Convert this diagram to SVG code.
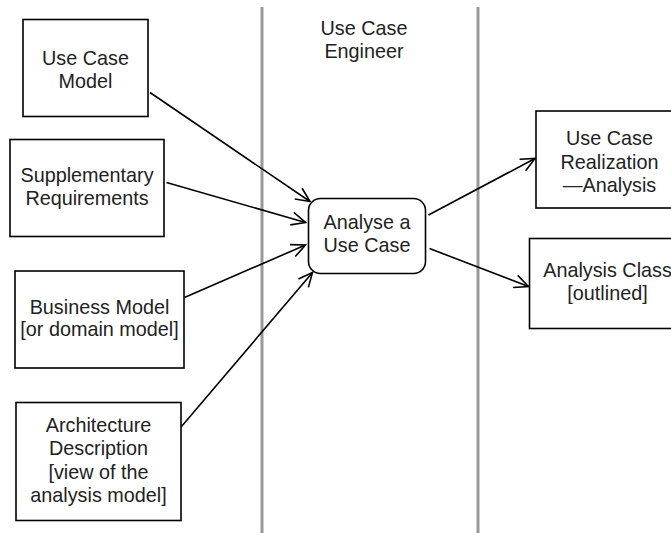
<svg xmlns="http://www.w3.org/2000/svg" width="671" height="533" viewBox="0 0 671 533">
<defs>
<style>
.box{fill:#fff;stroke:#000;stroke-width:1.6}
.lane{stroke:#999;stroke-width:3}
.t{font-family:"Liberation Sans",Arial,sans-serif;font-size:19.8px;fill:#222;text-anchor:middle}
.c{fill:none;stroke:#000;stroke-width:1.6}
</style>
<marker id="arr" markerUnits="userSpaceOnUse" markerWidth="20" markerHeight="20" viewBox="-16 -10 20 20" refX="0" refY="0" orient="auto">
<path d="M-14,-6.5 L0,0 L-14,6.5" fill="none" stroke="#000" stroke-width="1.6"/>
</marker>
</defs>
<rect width="671" height="533" fill="#fff"/>
<g id="lanes">
<line class="lane" x1="262" y1="7" x2="262" y2="533"/>
<line class="lane" x1="478" y1="7" x2="478" y2="533"/>
<text class="t" x="364" y="35">Use Case</text>
<text class="t" x="364" y="58">Engineer</text>
</g>
<g id="connectors">
<line class="c" x1="150" y1="92.5" x2="310" y2="201.5" marker-end="url(#arr)"/>
<line class="c" x1="166.5" y1="182.5" x2="305.5" y2="222.5" marker-end="url(#arr)"/>
<line class="c" x1="184.5" y1="297.5" x2="305.5" y2="245" marker-end="url(#arr)"/>
<line class="c" x1="181.5" y1="426.5" x2="312.5" y2="272.5" marker-end="url(#arr)"/>
<line class="c" x1="428.5" y1="215" x2="535" y2="158.5" marker-end="url(#arr)"/>
<line class="c" x1="429.5" y1="248.5" x2="528.5" y2="286.5" marker-end="url(#arr)"/>
</g>
<g id="use-case-model">
<rect class="box" x="23" y="19.5" width="125" height="97"/>
<text class="t" x="85.5" y="65">Use Case</text>
<text class="t" x="85.5" y="87.5">Model</text>
</g>
<g id="supplementary-requirements">
<rect class="box" x="10" y="139.5" width="154" height="97"/>
<text class="t" x="87" y="182">Supplementary</text>
<text class="t" x="87" y="204.5">Requirements</text>
</g>
<g id="business-model">
<rect class="box" x="15" y="271" width="169" height="97"/>
<text class="t" x="99.5" y="313.5">Business Model</text>
<text class="t" x="99.5" y="336">[or domain model]</text>
</g>
<g id="architecture-description">
<rect class="box" x="16" y="402.5" width="165" height="118"/>
<text class="t" x="98.5" y="432">Architecture</text>
<text class="t" x="98.5" y="455">Description</text>
<text class="t" x="98.5" y="478.5">[view of the</text>
<text class="t" x="98.5" y="501.5">analysis model]</text>
</g>
<g id="analyse-use-case">
<rect class="box" x="308.5" y="198.5" width="117" height="75" rx="12" ry="12"/>
<text class="t" x="367" y="228.5">Analyse a</text>
<text class="t" x="367" y="251.5">Use Case</text>
</g>
<g id="use-case-realization">
<rect class="box" x="536" y="111" width="150" height="97"/>
<text class="t" x="609.5" y="145">Use Case</text>
<text class="t" x="609.5" y="168.5">Realization</text>
<text class="t" x="609.5" y="191.5">—Analysis</text>
</g>
<g id="analysis-class">
<rect class="box" x="529.5" y="238.5" width="150" height="90"/>
<text class="t" x="607.5" y="277">Analysis Class</text>
<text class="t" x="607.5" y="300">[outlined]</text>
</g>
</svg>
